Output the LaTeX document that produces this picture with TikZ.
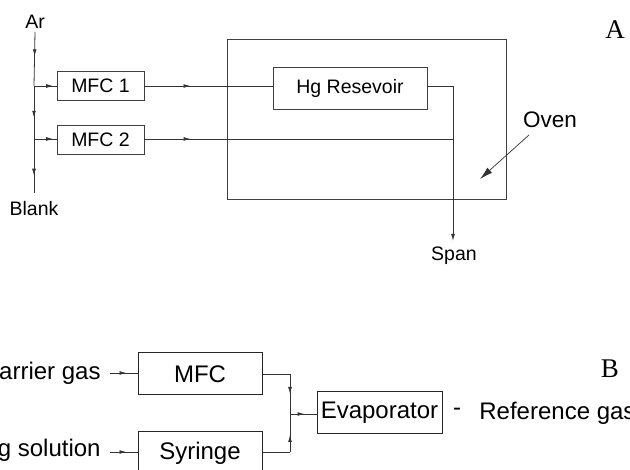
\documentclass[tikz,border=0pt]{standalone}
\usepackage{fontspec}
\setmainfont{Liberation Sans}
\newfontfamily\serifA{Liberation Serif}
\usetikzlibrary{arrows.meta,decorations.markings}
\begin{document}
\begin{tikzpicture}[x=1pt,y=-1pt,
  line width=0.8pt, draw=black!80,
  boxA/.style={draw=black!75, line width=0.8pt, minimum width=87pt, minimum height=29pt, inner sep=0pt, font=\fontsize{19.5}{22}\selectfont},
  boxB/.style={draw=black!85, line width=1pt, minimum width=124pt, minimum height=42pt, inner sep=0pt, font=\fontsize{24}{27}\selectfont},
  lblA/.style={inner sep=0pt, font=\fontsize{19.5}{22}\selectfont},
  lblB/.style={inner sep=0pt, font=\fontsize{24}{27}\selectfont},
  midarrow/.style={postaction={decorate,decoration={markings,mark=at position #1 with {\arrow{Latex[length=7pt,width=3.8pt]}}}}},
  conn/.style={draw=black!80, line width=0.8pt}
]
\useasboundingbox (0,0) rectangle (630,470);

% ---------- Part A ----------
\node[lblA] (ar) at (35,22) {Ar};
\node[lblA] (blank) at (34,209) {Blank};
\coordinate (j1) at (34,86);
\coordinate (j2) at (34,139);
\coordinate (bl) at (34,193);
\node[boxA] (mfc1) at (100.5,86) {MFC 1};
\node[boxA] (mfc2) at (100.5,140) {MFC 2};
\node[draw=black!75, line width=0.8pt, minimum width=279pt, minimum height=160pt, inner sep=0pt] (oven) at (366.5,119) {};
\node[boxA, minimum width=154pt, minimum height=42pt] (hg) at (350,88) {Hg Resevoir};
\coordinate (c1) at (453,86);
\coordinate (c2) at (453,139);
\node[lblA, anchor=north] (span) at (454,246) {Span};
\node[lblA, font=\fontsize{22.5}{25}\selectfont] (ovenlbl) at (550,120) {Oven};
\coordinate (ovs) at (529,135);
\coordinate (ove) at (480,179);
\node[inner sep=0pt, font=\serifA\fontsize{27}{30}\selectfont] (labA) at (615,30) {A};

\draw[conn, midarrow=0.45] (ar.south |- 0,32) -- (j1);
\draw[conn, midarrow=0.6] (j1) -- (j2);
\draw[conn, midarrow=0.68] (j2) -- (bl);
\draw[conn, midarrow=0.85] (j1) -- (mfc1.west |- j1);
\draw[conn, midarrow=0.85] (j2) -- (mfc2.west |- j2);
\draw[conn, midarrow=0.36] (mfc1.east |- 0,86) -- (hg.west |- 0,86);
\draw[conn, midarrow=0.15] (mfc2.east |- 0,139) -- (c2);
\draw[conn] (hg.east |- c1) -- (c1) -- (c2);
\draw[conn, -{Latex[length=7pt,width=3.8pt]}] (c2) -- (453,241);
\draw[conn, line width=0.7pt, -{Latex[length=13pt,width=7pt]}] (ovs) -- (ove);

% ---------- Part B ----------
\node[lblB, anchor=east] (carrier) at (101,373) {Carrier gas};
\node[lblB, anchor=east] (hgsol) at (101,450) {Hg solution};
\node[boxB] (mfc) at (200,374) {MFC};
\node[boxB] (syr) at (200,453) {Syringe};
\node[boxB, minimum width=125pt] (evap) at (379.5,413) {Evaporator};
\node[lblB] (dash) at (457,412) {-};
\node[lblB, anchor=west] (ref) at (479,413) {Reference gas};
\node[inner sep=0pt, font=\serifA\fontsize{27}{30}\selectfont] (labB) at (610,369) {B};
\coordinate (m1) at (290,374);
\coordinate (m2) at (290,452);
\coordinate (jj) at (290,414);

\draw[conn, midarrow=0.6] (110,373) -- (mfc.west |- 0,373);
\draw[conn, midarrow=0.6] (110,452) -- (syr.west |- 0,452);
\draw[conn] (mfc.east |- m1) -- (m1);
\draw[conn, midarrow=0.5] (m1) -- (jj);
\draw[conn] (syr.east |- m2) -- (m2);
\draw[conn, midarrow=0.45] (m2) -- (jj);
\draw[conn, midarrow=0.55] (jj) -- (evap.west |- jj);
\end{tikzpicture}
\end{document}
